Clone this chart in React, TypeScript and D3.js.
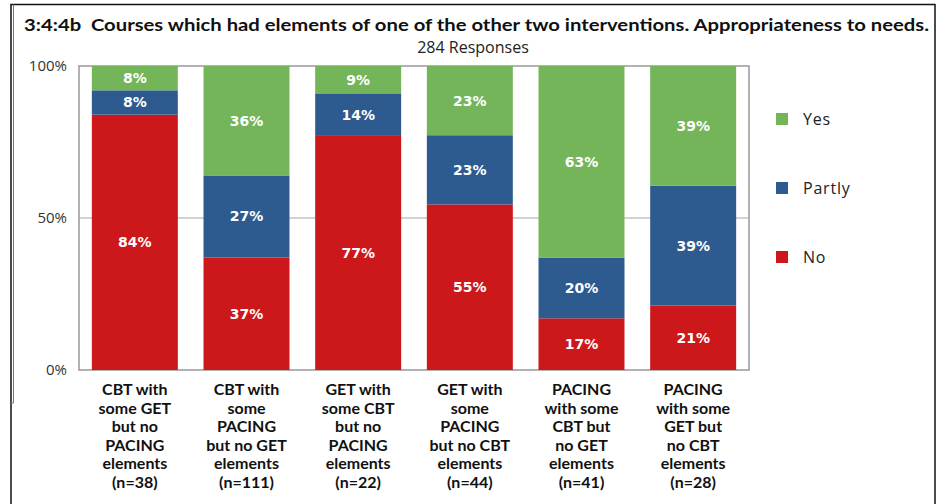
import * as d3 from "d3";
import React, { useEffect, useRef } from "react";

const categories = [
  ["CBT with", "some GET", "but no", "PACING", "elements", "(n=38)"],
  ["CBT with", "some", "PACING", "but no GET", "elements", "(n=111)"],
  ["GET with", "some CBT", "but no", "PACING", "elements", "(n=22)"],
  ["GET with", "some", "PACING", "but no CBT", "elements", "(n=44)"],
  ["PACING", "with some", "CBT but", "no GET", "elements", "(n=41)"],
  ["PACING", "with some", "GET but", "no CBT", "elements", "(n=28)"],
];
const yesValues = [8, 36, 9, 23, 63, 39];
const partlyValues = [8, 27, 14, 23, 20, 39];
const noValues = [84, 37, 77, 55, 17, 21];
const seriesNames = ["No", "Partly", "Yes"];
const legendOrder = ["Yes", "Partly", "No"];
const colors: Record<string, string> = { Yes: "#75B55A", Partly: "#2D5B90", No: "#CD181B" };
const yTicks = [0, 50, 100];

export default function App() {
  const svgRef = useRef<SVGSVGElement>(null);

  useEffect(() => {
    const w = 941;
    const h = 504;
    const svg = d3.select(svgRef.current).attr("width", w).attr("height", h);
    svg.selectAll("*").remove();

    const left = 79, right = 749, top = 66, bottom = 370;

    // frame
    svg.append("path")
      .attr("d", `M11,504 V4.5 H935 V504`)
      .attr("fill", "none").attr("stroke", "#111").attr("stroke-width", 1.5);
    svg.append("path")
      .attr("d", `M13.5,4.5 V403 H11`)
      .attr("fill", "none").attr("stroke", "#777").attr("stroke-width", 1);

    svg.append("text")
      .attr("x", 24).attr("y", 31)
      .attr("textLength", 905).attr("lengthAdjust", "spacingAndGlyphs")
      .style("white-space", "pre")
      .style("font-family", "Lato, 'Liberation Sans', sans-serif")
      .style("font-weight", "bold").style("font-size", "17px").attr("fill", "#111")
      .text("3:4:4b  Courses which had elements of one of the other two interventions. Appropriateness to needs.");
    svg.append("text")
      .attr("x", 473).attr("y", 53).attr("text-anchor", "middle")
      .style("font-family", "'Open Sans', sans-serif")
      .style("font-size", "16px").attr("fill", "#222")
      .text("284 Responses");

    const rows = categories.map((c, i) => ({
      idx: i, Yes: yesValues[i], Partly: partlyValues[i], No: noValues[i],
    }));

    const x = d3.scaleBand<number>()
      .domain(rows.map(d => d.idx))
      .range([left, right])
      .paddingInner(0.23)
      .paddingOuter(0.115);
    const y = d3.scaleLinear().domain([0, 1]).range([bottom, top]);

    const stack = d3.stack<any>().keys(seriesNames).offset(d3.stackOffsetExpand);
    const layers = stack(rows);

    // gridline
    svg.append("g")
      .selectAll("line")
      .data(yTicks.filter(t => t === 50))
      .join("line")
      .attr("x1", left).attr("x2", right)
      .attr("y1", d => y(d / 100)).attr("y2", d => y(d / 100))
      .attr("stroke", "#a6a6a6").attr("stroke-width", 1.2);

    // plot border
    svg.append("rect")
      .attr("x", left).attr("y", top)
      .attr("width", right - left).attr("height", bottom - top)
      .attr("fill", "none").attr("stroke", "#999").attr("stroke-width", 1.5);

    svg.append("g")
      .selectAll("text")
      .data(yTicks)
      .join("text")
      .attr("x", 67).attr("y", d => y(d / 100) + 5)
      .attr("text-anchor", "end")
      .style("font-family", "'Open Sans', sans-serif")
      .style("font-size", "15px").attr("fill", "#333")
      .text(d => d + "%");

    layers.forEach(layer => {
      const g = svg.append("g");
      g.selectAll("rect")
        .data(layer)
        .join("rect")
        .attr("x", d => x(d.data.idx)!)
        .attr("width", x.bandwidth())
        .attr("y", d => y(d[1]))
        .attr("height", d => y(d[0]) - y(d[1]))
        .attr("fill", colors[layer.key]);
      g.selectAll("text")
        .data(layer)
        .join("text")
        .attr("x", d => x(d.data.idx)! + x.bandwidth() / 2)
        .attr("y", d => (y(d[0]) + y(d[1])) / 2 + 5)
        .attr("text-anchor", "middle")
        .style("font-family", "'DejaVu Sans', sans-serif")
        .style("font-weight", "bold").style("font-size", "14px")
        .attr("fill", "#fff")
        .text(d => d.data[layer.key] + "%");
    });

    // category labels
    const cat = svg.append("g")
      .selectAll("text")
      .data(rows)
      .join("text")
      .attr("text-anchor", "middle")
      .style("font-family", "Lato, sans-serif")
      .style("font-weight", "bold").style("font-size", "16px")
      .attr("fill", "#111");
    cat.selectAll("tspan")
      .data(d => categories[d.idx].map(line => ({ line, idx: d.idx })))
      .join("tspan")
      .attr("x", d => x(d.idx)! + x.bandwidth() / 2)
      .attr("y", (d, i) => 395 + i * 18.6)
      .text(d => d.line);

    // legend
    const leg = svg.append("g")
      .selectAll("g")
      .data(legendOrder)
      .join("g")
      .attr("transform", (d, i) => `translate(776, ${119 + i * 69})`);
    leg.append("rect")
      .attr("x", 0).attr("y", -6).attr("width", 12).attr("height", 12)
      .attr("fill", d => colors[d]);
    leg.append("text")
      .attr("x", 27).attr("y", 6)
      .style("font-family", "'Open Sans', sans-serif")
      .style("font-size", "16px").style("letter-spacing", "0.8px")
      .attr("fill", "#222")
      .text(d => d);
  }, []);

  return (
    <div style={{ position: "absolute", left: 0, top: 0 }}>
      <svg ref={svgRef}></svg>
    </div>
  );
}
